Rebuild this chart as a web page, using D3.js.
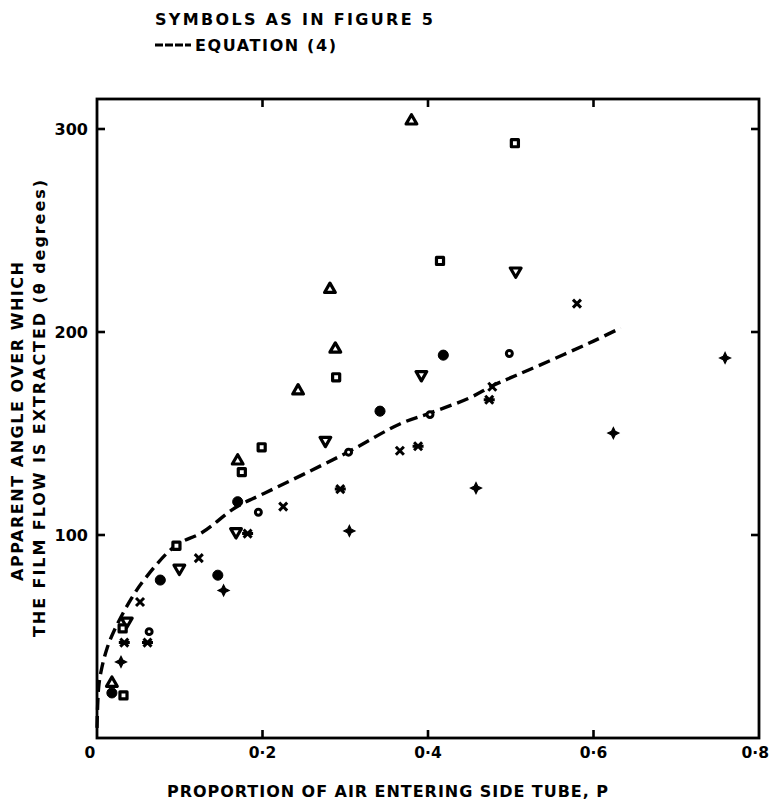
<!DOCTYPE html>
<html><head><meta charset="utf-8">
<script src="https://cdn.jsdelivr.net/npm/d3@7"></script>
<style>body{margin:0;background:#fff}svg{display:block}text{font-family:"DejaVu Sans",sans-serif;font-weight:bold;fill:#000}</style>
</head><body><svg id="c" width="770" height="803"></svg>
<script>
// ---- data ----
const triUpX = [0.018, 0.170, 0.243, 0.2815, 0.288, 0.38];
const triUpY = [27, 136.5, 171, 221, 191.6, 304];
const triDownX = [0.036, 0.0995, 0.168, 0.276, 0.392, 0.506];
const triDownY = [57.5, 83.6, 101.6, 146.6, 179, 230];
const squareX = [0.032, 0.031, 0.096, 0.175, 0.199, 0.289, 0.4145, 0.505];
const squareY = [21, 54, 94.7, 131, 143.2, 177.7, 235, 293];
const openCircleX = [0.063, 0.195, 0.304, 0.4024, 0.4983];
const openCircleY = [52.4, 111.2, 140.8, 159.3, 189.4];
const dotX = [0.018, 0.0765, 0.146, 0.170, 0.342, 0.4185];
const dotY = [22.2, 77.8, 80.2, 116.4, 161, 188.6];
const crossX = [0.052, 0.123, 0.225, 0.366, 0.4777, 0.58];
const crossY = [67, 88.6, 114, 141.5, 173, 214];
const starX = [0.033, 0.061, 0.182, 0.294, 0.388, 0.474];
const starY = [47, 47, 100.7, 122.6, 143.7, 166.6];
const plusX = [0.029, 0.153, 0.305, 0.458, 0.624, 0.759];
const plusY = [37.5, 72.7, 102, 123.1, 150.2, 187.2];
const eqX = [0, 0.002, 0.005, 0.012, 0.022, 0.042, 0.058, 0.095, 0.127, 0.167, 0.203, 0.25, 0.304, 0.366, 0.402, 0.45, 0.478, 0.5, 0.523, 0.5635, 0.6, 0.633];
const eqY = [5, 25, 33, 44, 54, 69, 78.5, 94.8, 101.2, 113.4, 120.7, 130, 141, 154.7, 160, 167.5, 173.5, 177.5, 181.5, 188.8, 195.5, 202];
const xTicks = [0.2, 0.4, 0.6, 0.8];
const xTickLabels = ["0·2", "0·4", "0·6", "0·8"];
const yTicks = [100, 200, 300];
const yTickLabels = ["100", "200", "300"];
const xTitle = "PROPORTION OF AIR ENTERING SIDE TUBE, P";
const yTitle1 = "APPARENT ANGLE OVER WHICH";
const yTitle2 = "THE FILM FLOW IS EXTRACTED (θ degrees)";
const legend1 = "SYMBOLS AS IN FIGURE 5";
const legend2 = "EQUATION (4)";

// ---- layout ----
const L = 97, R = 759, T = 99, B = 738;
const x = d3.scaleLinear().domain([0, 0.8]).range([L, R]);
const y = d3.scaleLinear().domain([0, 100]).range([B, B - 203]);
const svg = d3.select("#c");

// frame
svg.append("rect").attr("x", L).attr("y", T).attr("width", R - L).attr("height", B - T)
  .attr("fill", "none").attr("stroke", "#000").attr("stroke-width", 2.8);

// inward ticks
const tl = 8;
const tickG = svg.append("g").attr("stroke", "#000").attr("stroke-width", 2.6);
xTicks.slice(0, 3).forEach(v => {
  tickG.append("line").attr("x1", x(v)).attr("x2", x(v)).attr("y1", B).attr("y2", B - tl);
  tickG.append("line").attr("x1", x(v)).attr("x2", x(v)).attr("y1", T).attr("y2", T + tl);
});
yTicks.forEach(v => {
  tickG.append("line").attr("x1", L).attr("x2", L + tl).attr("y1", y(v)).attr("y2", y(v));
  tickG.append("line").attr("x1", R).attr("x2", R - tl).attr("y1", y(v)).attr("y2", y(v));
});

// tick labels
xTicks.forEach((v, i) => {
  const last = i === xTicks.length - 1;
  svg.append("text").attr("x", last ? 769 : x(v)).attr("y", 758)
    .attr("text-anchor", last ? "end" : "middle")
    .attr("font-size", 15.5).text(xTickLabels[i]);
});
svg.append("text").attr("x", 90).attr("y", 758).attr("text-anchor", "middle").attr("font-size", 15.5).text("0");
yTicks.forEach((v, i) => {
  svg.append("text").attr("x", 88).attr("y", y(v)).attr("dy", "0.36em").attr("text-anchor", "end")
    .attr("font-size", 16).text(yTickLabels[i]);
});

// axis titles
svg.append("text").attr("x", 167).attr("y", 797).attr("font-size", 16)
  .attr("textLength", 441).attr("lengthAdjust", "spacing").text(xTitle);
svg.append("text").attr("transform", "translate(23,581) rotate(-90)").attr("font-size", 16)
  .attr("textLength", 319).attr("lengthAdjust", "spacing").text(yTitle1);
svg.append("text").attr("transform", "translate(45,637) rotate(-90)").attr("font-size", 16)
  .attr("textLength", 457).attr("lengthAdjust", "spacing").text(yTitle2);

// legend
svg.append("text").attr("x", 155).attr("y", 25).attr("font-size", 16)
  .attr("textLength", 278).attr("lengthAdjust", "spacing").text(legend1);
svg.append("line").attr("x1", 155).attr("x2", 191).attr("y1", 45).attr("y2", 45)
  .attr("stroke", "#000").attr("stroke-width", 2.8).attr("stroke-dasharray", "8,2");
svg.append("text").attr("x", 195).attr("y", 51).attr("font-size", 16)
  .attr("textLength", 141).attr("lengthAdjust", "spacing").text(legend2);

// equation curve
const eq = eqX.map((v, i) => [v, eqY[i]]);
svg.append("path").datum(eq)
  .attr("d", d3.line().x(d => x(d[0])).y(d => y(d[1])).curve(d3.curveCatmullRom))
  .attr("fill", "none").attr("stroke", "#000").attr("stroke-width", 3.4)
  .attr("stroke-dasharray", "12,6");

// symbols
const zip = (xs, ys) => xs.map((v, i) => [v, ys[i]]);
const g = svg.append("g");
function sym(data, type, size, filled, rot, sw) {
  g.selectAll(null).data(data).enter().append("path")
    .attr("transform", d => `translate(${x(d[0])},${y(d[1])}) rotate(${rot || 0})`)
    .attr("d", d3.symbol().type(type).size(size))
    .attr("fill", filled ? "#000" : "#fff").attr("stroke", "#000").attr("stroke-width", sw)
    .attr("stroke-linejoin", "round");
}
sym(zip(triUpX, triUpY), d3.symbolTriangle, 50, false, 0, 3.2);
sym(zip(triDownX, triDownY), d3.symbolTriangle, 50, false, 180, 3.2);
sym(zip(squareX, squareY), d3.symbolSquare, 50, false, 0, 3.2);
sym(zip(openCircleX, openCircleY), d3.symbolCircle, 28, false, 0, 3);
sym(zip(dotX, dotY), d3.symbolCircle, 80, true, 0, 1);
// cross
g.selectAll(null).data(zip(crossX, crossY)).enter().append("path")
  .attr("transform", d => `translate(${x(d[0])},${y(d[1])})`)
  .attr("d", "M-4,-4L4,4M-4,4L4,-4").attr("stroke", "#000").attr("stroke-width", 3);
// star (asterisk)
g.selectAll(null).data(zip(starX, starY)).enter().append("path")
  .attr("transform", d => `translate(${x(d[0])},${y(d[1])})`)
  .attr("d", "M-4,-4L4,4M-4,4L4,-4M-5.5,0L5.5,0").attr("stroke", "#000").attr("stroke-width", 3);
// plus (bold)
g.selectAll(null).data(zip(plusX, plusY)).enter().append("path")
  .attr("transform", d => `translate(${x(d[0])},${y(d[1])})`)
  .attr("d", "M0,-5.5L1.8,-1.8L5.5,0L1.8,1.8L0,5.5L-1.8,1.8L-5.5,0L-1.8,-1.8Z").attr("fill", "#000")
  .attr("stroke", "#000").attr("stroke-width", 1.2);
</script></body></html>
